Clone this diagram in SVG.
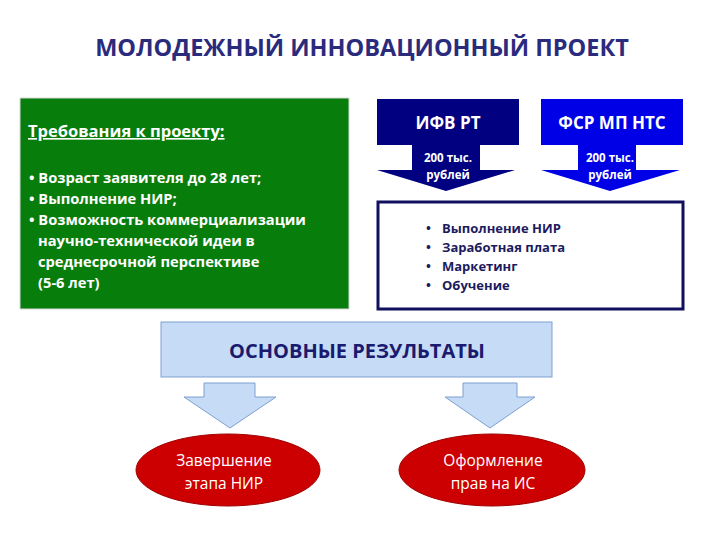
<svg xmlns="http://www.w3.org/2000/svg" width="720" height="540" viewBox="0 0 720 540">
<style>
text{font-family:"Open Sans","DejaVu Sans",sans-serif;font-weight:bold}
.w{fill:#ffffff}
.n{fill:#1b1b5e}
.r{font-weight:normal}
</style>
<rect width="720" height="540" fill="#ffffff"/>
<text x="362" y="56" text-anchor="middle" font-size="23.5" fill="#2b2b7d">МОЛОДЕЖНЫЙ ИННОВАЦИОННЫЙ ПРОЕКТ</text>
<g id="requirements">
<rect x="20" y="98" width="329" height="211" fill="#077d0b" stroke="#d8d8d8" stroke-width="1"/>
<text x="28" y="137" font-size="16.5" class="w" text-decoration="underline">Требования к проекту:</text>
<text x="29" y="183" font-size="14.7" class="w">• Возраст заявителя до 28 лет;</text>
<text x="29" y="204" font-size="14.7" class="w">• Выполнение НИР;</text>
<text x="29" y="225" font-size="14.7" class="w">• Возможность коммерциализации</text>
<text x="38" y="246" font-size="14.7" class="w">научно-технической идеи в</text>
<text x="38" y="267" font-size="14.7" class="w">среднесрочной перспективе</text>
<text x="38" y="288" font-size="14.7" class="w">(5-6 лет)</text>
</g>
<g id="ifv">
<rect x="377" y="99" width="142" height="46" fill="#000080"/>
<text x="448" y="129" text-anchor="middle" font-size="17" class="w">ИФВ РТ</text>
</g>
<g id="fsr">
<rect x="541" y="99" width="142" height="46" fill="#0000e6"/>
<text x="612" y="129" text-anchor="middle" font-size="17" class="w">ФСР МП НТС</text>
</g>
<g id="connectors">
<polygon points="412,145 480,145 480,170 515,170 446,191 377,170 412,170" fill="#000080"/>
<text x="448" y="162" text-anchor="middle" font-size="11.5" class="w">200 тыс.</text>
<text x="448" y="179" text-anchor="middle" font-size="11.5" class="w">рублей</text>
<polygon points="578,145 636,145 636,170 680,170 610,191 541,170 578,170" fill="#0000e6"/>
<text x="610" y="162" text-anchor="middle" font-size="11.5" class="w">200 тыс.</text>
<text x="610" y="179" text-anchor="middle" font-size="11.5" class="w">рублей</text>
<polygon points="204,383 255,383 255,397 276,397 230,428 184,397 204,397" fill="#c6dbf5" stroke="#7f9fd0" stroke-width="1"/>
<polygon points="463,383 517,383 517,397 535,397 490,428 445,397 463,397" fill="#c6dbf5" stroke="#7f9fd0" stroke-width="1"/>
</g>
<g id="expenses">
<rect x="378" y="202" width="305" height="107" fill="#ffffff" stroke="#10105e" stroke-width="3"/>
<text x="426" y="233" font-size="13" class="n">•</text><text x="442" y="233" font-size="13" class="n">Выполнение НИР</text>
<text x="426" y="252" font-size="13" class="n">•</text><text x="442" y="252" font-size="13" class="n">Заработная плата</text>
<text x="426" y="271" font-size="13" class="n">•</text><text x="442" y="271" font-size="13" class="n">Маркетинг</text>
<text x="426" y="290" font-size="13" class="n">•</text><text x="442" y="290" font-size="13" class="n">Обучение</text>
</g>
<g id="results">
<rect x="161" y="322" width="391" height="55" fill="#c6dbf5" stroke="#7f9fd0" stroke-width="1"/>
<text x="357" y="358" text-anchor="middle" font-size="20" fill="#1a1a6e">ОСНОВНЫЕ РЕЗУЛЬТАТЫ</text>
</g>
<g id="completion">
<ellipse cx="228" cy="470" rx="92" ry="36" fill="#cc0000" stroke="#a00000" stroke-width="1"/>
<text x="224" y="466" text-anchor="middle" font-size="15.5" class="w r">Завершение</text>
<text x="224" y="489" text-anchor="middle" font-size="15.5" class="w r">этапа НИР</text>
</g>
<g id="rights">
<ellipse cx="492" cy="470" rx="93" ry="36" fill="#cc0000" stroke="#a00000" stroke-width="1"/>
<text x="493" y="466" text-anchor="middle" font-size="15.5" class="w r">Оформление</text>
<text x="493" y="489" text-anchor="middle" font-size="15.5" class="w r">прав на ИС</text>
</g>
</svg>
